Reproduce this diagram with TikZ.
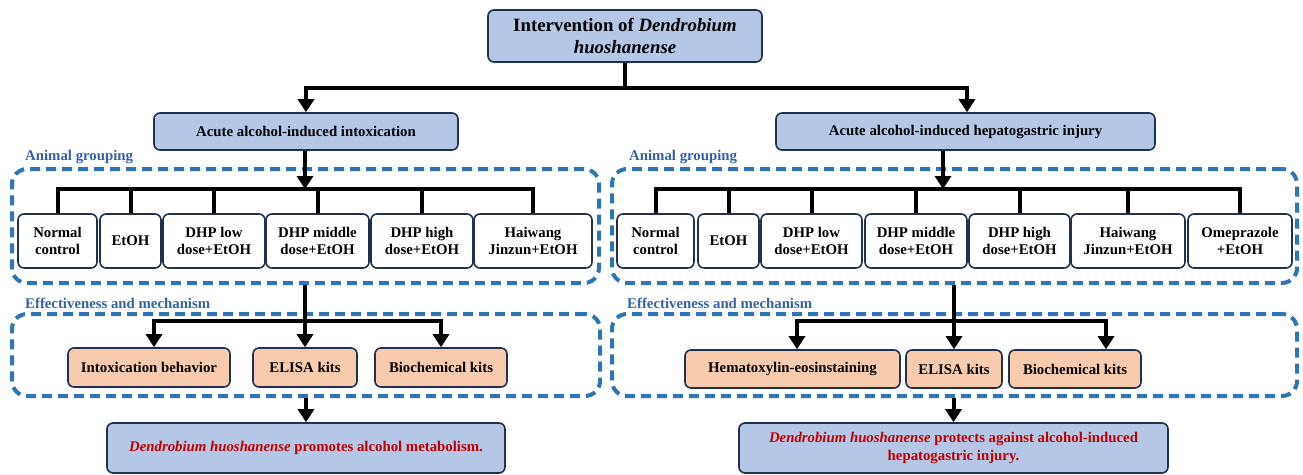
\documentclass[tikz,border=0pt]{standalone}
\usepackage{fontspec}
\setmainfont{Liberation Serif}
\usetikzlibrary{arrows.meta}
\definecolor{boxblue}{HTML}{B4C7E7}
\definecolor{boxline}{HTML}{1F3050}
\definecolor{boxorange}{HTML}{F8CBAD}
\definecolor{dashblue}{HTML}{2E75B6}
\definecolor{labblue}{HTML}{3461A8}
\definecolor{darkred}{HTML}{C00000}
\begin{document}
\begin{tikzpicture}[x=1pt,y=-1pt,
  base/.style={draw=boxline, line width=1.6pt, rounded corners=6pt, inner sep=0pt, align=center,
    font={\fontsize{14.8}{16.6}\selectfont\bfseries}},
  bluebox/.style={base, fill=boxblue},
  grpbox/.style={base, fill=white, minimum height=54pt},
  orgbox/.style={base, fill=boxorange},
  finalbox/.style={base, fill=boxblue, text=darkred, font={\fontsize{14.8}{18}\selectfont\bfseries}},
  dbox/.style={draw=dashblue, line width=4pt, dash pattern=on 10pt off 6pt, rounded corners=15pt, inner sep=0pt},
  conn/.style={line width=4pt, draw=black},
  arr/.style={conn, -{Triangle[width=16pt,length=13pt]}},
  lab/.style={anchor=west, inner sep=0pt, text=labblue, font={\fontsize{14.8}{16.6}\selectfont\bfseries}}
]
\useasboundingbox (0,0) rectangle (1303,474);

% dashed groups
\node[dbox, minimum width=587pt, minimum height=114pt] (dL1) at (305.5,226) {};
\node[dbox, minimum width=685pt, minimum height=114pt] (dR1) at (954.5,226) {};
\node[dbox, minimum width=588pt, minimum height=82pt] (dL2) at (306,355) {};
\node[dbox, minimum width=685pt, minimum height=82pt] (dR2) at (954.5,355) {};

% labels
\node[lab] (labA1) at (25,157) {Animal grouping};
\node[lab] (labA2) at (629,157) {Animal grouping};
\node[lab] (labE1) at (25,303) {Effectiveness and mechanism};
\node[lab] (labE2) at (627,303) {Effectiveness and mechanism};

% top
\node[bluebox, minimum width=274pt, minimum height=52pt, font={\fontsize{18.8}{22}\selectfont\bfseries}] (top) at (625,36)
  {Intervention of \textit{Dendrobium}\\\textit{huoshanense}};
\node[bluebox, minimum width=304pt, minimum height=37pt] (aL) at (306,131.5) {Acute alcohol-induced intoxication};
\node[bluebox, minimum width=379pt, minimum height=37pt] (aR) at (965.5,131.5) {Acute alcohol-induced hepatogastric injury};

% left groups
\node[grpbox, minimum width=79pt]  (gL1) at (57.5,241) {Normal\\control};
\node[grpbox, minimum width=61pt]  (gL2) at (130.5,241) {EtOH};
\node[grpbox, minimum width=102pt] (gL3) at (214,241) {DHP low\\dose+EtOH};
\node[grpbox, minimum width=103pt] (gL4) at (317.5,241) {DHP middle\\dose+EtOH};
\node[grpbox, minimum width=102pt] (gL5) at (422,241) {DHP high\\dose+EtOH};
\node[grpbox, minimum width=118pt] (gL6) at (533,241) {Haiwang\\Jinzun+EtOH};

% right groups
\node[grpbox, minimum width=77pt]  (gR1) at (655.5,241) {Normal\\control};
\node[grpbox, minimum width=61pt]  (gR2) at (728.5,241) {EtOH};
\node[grpbox, minimum width=101pt] (gR3) at (811.5,241) {DHP low\\dose+EtOH};
\node[grpbox, minimum width=102pt] (gR4) at (916,241) {DHP middle\\dose+EtOH};
\node[grpbox, minimum width=101pt] (gR5) at (1019.5,241) {DHP high\\dose+EtOH};
\node[grpbox, minimum width=114pt] (gR6) at (1128,241) {Haiwang\\Jinzun+EtOH};
\node[grpbox, minimum width=104pt] (gR7) at (1240,241) {Omeprazole\\+EtOH};

% effectiveness boxes
\node[orgbox, minimum width=162pt, minimum height=39pt] (eL1) at (149,367.5) {Intoxication behavior};
\node[orgbox, minimum width=104pt, minimum height=39pt] (eL2) at (305,367.5) {ELISA kits};
\node[orgbox, minimum width=132pt, minimum height=39pt] (eL3) at (441,367.5) {Biochemical kits};
\node[orgbox, minimum width=215pt, minimum height=38pt] (eR1) at (792.5,369) {Hematoxylin-eosinstaining};
\node[orgbox, minimum width=96pt, minimum height=38pt]  (eR2) at (954,369) {ELISA kits};
\node[orgbox, minimum width=132pt, minimum height=38pt] (eR3) at (1075,369) {Biochemical kits};

% finals
\node[finalbox, minimum width=398pt, minimum height=50pt] (fL) at (306,448)
  {\textit{Dendrobium huoshanense} promotes alcohol metabolism.};
\node[finalbox, minimum width=429pt, minimum height=50pt] (fR) at (953.5,448)
  {\textit{Dendrobium huoshanense} protects against alcohol-induced\\hepatogastric injury.};

% connectors top
\coordinate (j0) at (625,88);
\draw[conn] (top.south) -- (j0);
\draw[arr] (j0) -| (aL.north);
\draw[arr] (j0) -| ([xshift=1.5pt]aR.north);

% left grouping bus
\coordinate (bL) at (305,189);
\draw[arr] (aL.south -| bL) -- (bL);
\draw[conn] (gL1.north) |- (gL6.north |- bL) -- (gL6.north);
\foreach \i in {2,...,5} \draw[conn] (gL\i.north) -- (gL\i.north |- bL);

% right grouping bus
\coordinate (bR) at (943,189);
\draw[arr] (aR.south -| bR) -- (bR);
\draw[conn] (gR1.north) |- (gR7.north |- bR) -- (gR7.north);
\foreach \i in {2,...,6} \draw[conn] (gR\i.north) -- (gR\i.north |- bR);

% effectiveness left
\coordinate (mL) at (305,321);
\draw[arr] (dL1.south -| eL2.north) -- (eL2.north);
\draw[arr] (mL) -| ([xshift=5pt]eL1.north);
\draw[arr] (mL) -| (eL3.north);

% effectiveness right
\coordinate (mR) at (954,321);
\draw[arr] (dR1.south -| eR2.north) -- (eR2.north);
\draw[arr] (mR) -| ([xshift=4.5pt]eR1.north);
\draw[arr] (mR) -| ([xshift=31pt]eR3.north);

% finals
\draw[arr] (dL2.south -| fL.north) -- (fL.north);
\draw[arr] (dR2.south -| fR.north) -- (fR.north);
\end{tikzpicture}
\end{document}
